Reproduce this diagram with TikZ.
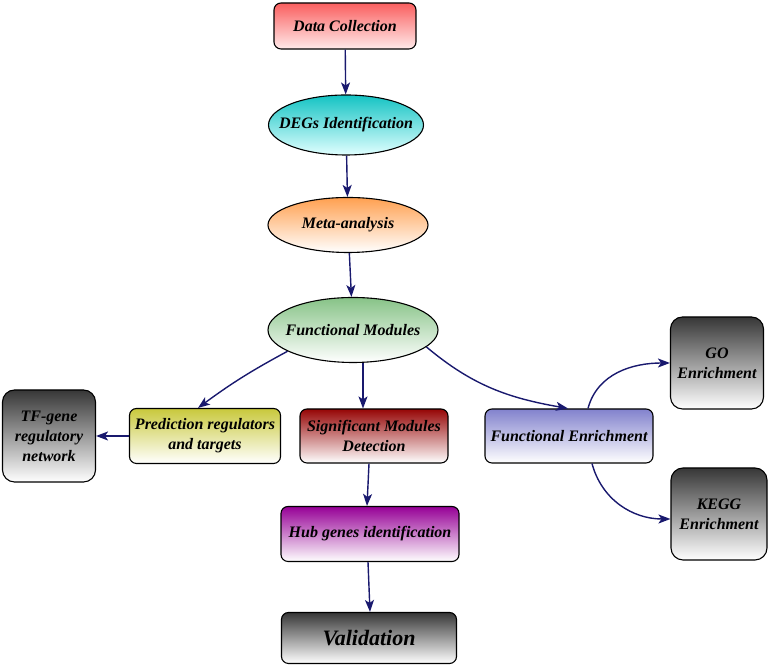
\documentclass[tikz,border=0pt]{standalone}
\usepackage{fontspec}
\setmainfont{Liberation Serif}
\usepackage{tikz}
\usetikzlibrary{arrows.meta,positioning,shapes.geometric}
\definecolor{arrowline}{RGB}{25,25,110}
\definecolor{redtop}{RGB}{250,95,95}
\definecolor{cyantop}{RGB}{20,195,195}
\definecolor{orangetop}{RGB}{255,160,80}
\definecolor{greentop}{RGB}{135,195,135}
\definecolor{yellowtop}{RGB}{200,200,60}
\definecolor{darkredtop}{RGB}{150,5,5}
\definecolor{bluetop}{RGB}{130,130,205}
\definecolor{greytop}{RGB}{55,55,55}
\definecolor{purpletop}{RGB}{150,0,150}

\begin{document}
\begin{tikzpicture}[
    x=1pt, y=1pt,
    font=\fontsize{16}{20}\selectfont\bfseries\itshape,
    box/.style={draw=black, line width=1.1pt, rounded corners=7pt, align=center,
      inner sep=2pt, bottom color=white},
    oval/.style={ellipse, draw=black, line width=1.1pt, inner sep=0pt, bottom color=white},
    greybox/.style={box, rounded corners=12pt, top color=greytop, bottom color=white,
      minimum width=93pt, minimum height=92pt},
    arrow/.style={-{Stealth[length=12pt, width=9pt, inset=3pt]}, draw=arrowline, line width=1.4pt}
  ]
    \useasboundingbox (0,0) rectangle (772,668);
    % main column
    \node[box, top color=redtop, bottom color=red!8, minimum width=142pt, minimum height=46pt]
      (data) at (345,642) {Data Collection};
    \node[oval, top color=cyantop, bottom color=cyan!12, minimum width=155pt, minimum height=60pt,
      label=center:DEGs Identification] (degs) at (346,543) {};
    \node[oval, top color=orangetop, minimum width=160pt, minimum height=55pt,
      label=center:Meta-analysis] (meta) at (348,443) {};
    \node[oval, top color=greentop, minimum width=170pt, minimum height=65pt,
      label=center:Functional Modules] (fm) at (353,338) {};
    % second row
    \node[box, top color=yellowtop, minimum width=151pt, minimum height=55pt]
      (pred) at (205,232) {Prediction regulators\\and targets};
    \node[box, top color=darkredtop, minimum width=148pt, minimum height=54pt]
      (sig) at (374,232) {Significant Modules\\Detection};
    \node[box, top color=bluetop, minimum width=168pt, minimum height=54pt]
      (fe) at (569,232) {Functional Enrichment};
    \node[greybox] (tf) at (49,232) {TF-gene\\regulatory\\network};
    \node[greybox] (go) at (717,305) {GO\\Enrichment};
    \node[greybox, minimum width=96pt] (kegg) at (719,154) {KEGG\\Enrichment};
    % bottom
    \node[box, top color=purpletop, minimum width=178pt, minimum height=55pt]
      (hub) at (370,134) {Hub genes identification};
    \node[box, top color=greytop, bottom color=white, minimum width=175pt, minimum height=51pt,
      font=\fontsize{22}{26}\selectfont\bfseries\itshape]
      (val) at (369,30) {Validation};
    % connectors
    \draw[arrow] (data) -- (degs);
    \draw[arrow] (degs) -- (meta);
    \draw[arrow] (meta) -- (fm);
    \draw[arrow] (fm.198) to[bend right=4] ([xshift=-7pt]pred.north);
    \draw[arrow] ([xshift=10pt]fm.south) -- ([xshift=-11pt]sig.north);
    \draw[arrow] (fm.-13) to[out=-40, in=170] ([xshift=-1pt]fe.north);
    \draw[arrow] (pred) -- (tf);
    \draw[arrow] ([xshift=19pt]fe.north) to[out=75, in=180] (go.west);
    \draw[arrow] ([xshift=23pt]fe.south) to[out=-75, in=180] ([yshift=-5pt]kegg.west);
    \draw[arrow] ([xshift=-5pt]sig.south) -- ([xshift=-3pt]hub.north);
    \draw[arrow] ([xshift=-2pt]hub.south) -- (val.north -| hub.south);
\end{tikzpicture}
\end{document}
